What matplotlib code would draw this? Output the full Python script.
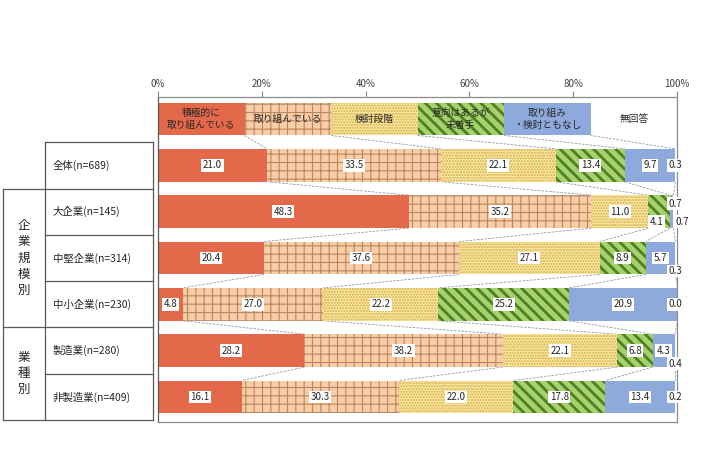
import matplotlib
matplotlib.use('Agg')
import matplotlib.pyplot as plt
import matplotlib.transforms as mtransforms
import numpy as np

plt.rcParams['font.family'] = ['Noto Sans CJK JP', 'DejaVu Sans']

categories = ['積極的に\n取り組んでいる', '取り組んでいる', '検討段階',
              '意向はあるが\n未着手', '取り組み\n・検討ともなし', '無回答']
rows = ['全体(n=689)', '大企業(n=145)', '中堅企業(n=314)', '中小企業(n=230)',
        '製造業(n=280)', '非製造業(n=409)']

active = [21.0, 48.3, 20.4, 4.8, 28.2, 16.1]
working = [33.5, 35.2, 37.6, 27.0, 38.2, 30.3]
studying = [22.1, 11.0, 27.1, 22.2, 22.1, 22.0]
intending = [13.4, 4.1, 8.9, 25.2, 6.8, 17.8]
nothing = [9.7, 0.7, 5.7, 20.9, 4.3, 13.4]
no_answer = [0.3, 0.7, 0.3, 0.0, 0.4, 0.2]
series = [active, working, studying, intending, nothing, no_answer]

groups = [('企業規模別', 2, 4), ('業種別', 5, 6)]

# face, hatch colour, hatch, hatch linewidth
styles = [
    ('#E4694B', '#E4694B', None, 1.0),
    ('#F9CDA6', '#B98660', '++', 0.8),
    ('#FCE7A0', '#D2AE4E', '......', 1.0),
    ('#A6D16C', '#4F7F25', '\\\\\\', 2.0),
    ('#8EAADC', '#8EAADC', None, 1.0),
    ('#FFFFFF', '#FFFFFF', None, 1.0),
]

# label placement for small segments: (row, seg) -> (x percent, dy)
special = {
    (2, 3): (96.1, 0.22), (2, 4): (99.6, -0.17), (2, 5): (101.0, 0.22),
    (1, 5): (99.6, 0.0), (3, 5): (99.6, 0.28), (4, 5): (99.7, 0.0),
    (5, 5): (99.6, 0.28), (6, 5): (99.6, 0.0),
}

W, H = 710, 474
fig = plt.figure(figsize=(7.1, 4.74), dpi=100)
ax = fig.add_axes([158 / W, 1 - 422 / H, (677 - 158) / W, (422 - 97) / H])

bh = 0.71
ys = np.arange(1, len(rows) + 1)
data = np.array(series).T
cum = np.hstack([np.zeros((len(rows), 1)), np.cumsum(data, axis=1)])


def draw_bar(y, width, left, st):
    face, hc, hatch, hlw = st
    with plt.rc_context({'hatch.linewidth': hlw}):
        bars = ax.barh(y, width, left=left, height=bh, color=face,
                       edgecolor=hc, linewidth=0, hatch=hatch, zorder=2)
    for p in bars:
        if hasattr(p, 'set_hatch_linewidth'):
            p.set_hatch_linewidth(hlw)
    return bars


# legend row
seg = 100 / 6
for j, cat in enumerate(categories):
    draw_bar(0, seg, j * seg, styles[j])
    ax.text(j * seg + seg / 2, 0, cat, ha='center', va='center',
            fontsize=7, color='#262626', linespacing=1.2, zorder=4)
legend_cum = np.arange(7) * seg

# data rows
for j in range(len(series)):
    draw_bar(ys, data[:, j], cum[:, j], styles[j])

for i in range(len(rows)):
    r = i + 1
    for j in range(len(series)):
        v = data[i, j]
        if (r, j) in special:
            x, dy = special[(r, j)]
        else:
            x, dy = cum[i, j] + v / 2, 0
        ax.text(x, r + dy, f'{v:.1f}', ha='center', va='center', fontsize=7,
                color='#262626', zorder=5,
                bbox=dict(boxstyle='square,pad=0.15', fc='white', ec='none'))

# series lines between rows
all_cum = np.vstack([legend_cum, cum])
for r in range(len(all_cum) - 1):
    for k in range(1, 6):
        ax.plot([all_cum[r, k], all_cum[r + 1, k]], [r + bh / 2, r + 1 - bh / 2],
                color='#8C9BB0', lw=0.6, ls=(0, (3, 1.5)), zorder=1)

ax.set_xlim(0, 100)
ax.set_ylim(6.54, -0.475)
ax.set_yticks([])
ax.xaxis.tick_top()
ax.set_xticks([0, 20, 40, 60, 80, 100])
ax.set_xticklabels(['0%', '20%', '40%', '60%', '80%', '100%'])
ax.tick_params(axis='x', length=4, width=0.8, color='#8c8c8c', labelsize=7,
               labelcolor='#404040', pad=2)
for s in ax.spines.values():
    s.set_color('#8c8c8c')
    s.set_linewidth(0.9)
ax.spines['left'].set_color('#595959')

# table on the left
trans = mtransforms.blended_transform_factory(fig.transFigure, ax.transData)
xg, xl, xr = 3 / W, 45 / W, 153 / W
lc = '#595959'
for b, full in [(0.5, False), (1.5, True), (2.5, False), (3.5, False),
                (4.5, True), (5.5, False), (6.5, True)]:
    ax.plot([xg if full else xl, xr], [b, b], color=lc, lw=0.9,
            transform=trans, clip_on=False)
ax.plot([xl, xl], [0.5, 6.5], color=lc, lw=0.9, transform=trans, clip_on=False)
ax.plot([xr, xr], [0.5, 6.5], color=lc, lw=0.9, transform=trans, clip_on=False)
ax.plot([xg, xg], [1.5, 6.5], color=lc, lw=0.9, transform=trans, clip_on=False)

for i, name in enumerate(rows):
    ax.text(53 / W, i + 1, name, ha='left', va='center', fontsize=7.5,
            color='#262626', transform=trans)

for name, r0, r1 in groups:
    ax.text(24 / W, (r0 + r1) / 2, '\n'.join(name), ha='center', va='center',
            fontsize=9, color='#262626', linespacing=1.3, transform=trans)

fig.savefig('out.png', dpi=100)
